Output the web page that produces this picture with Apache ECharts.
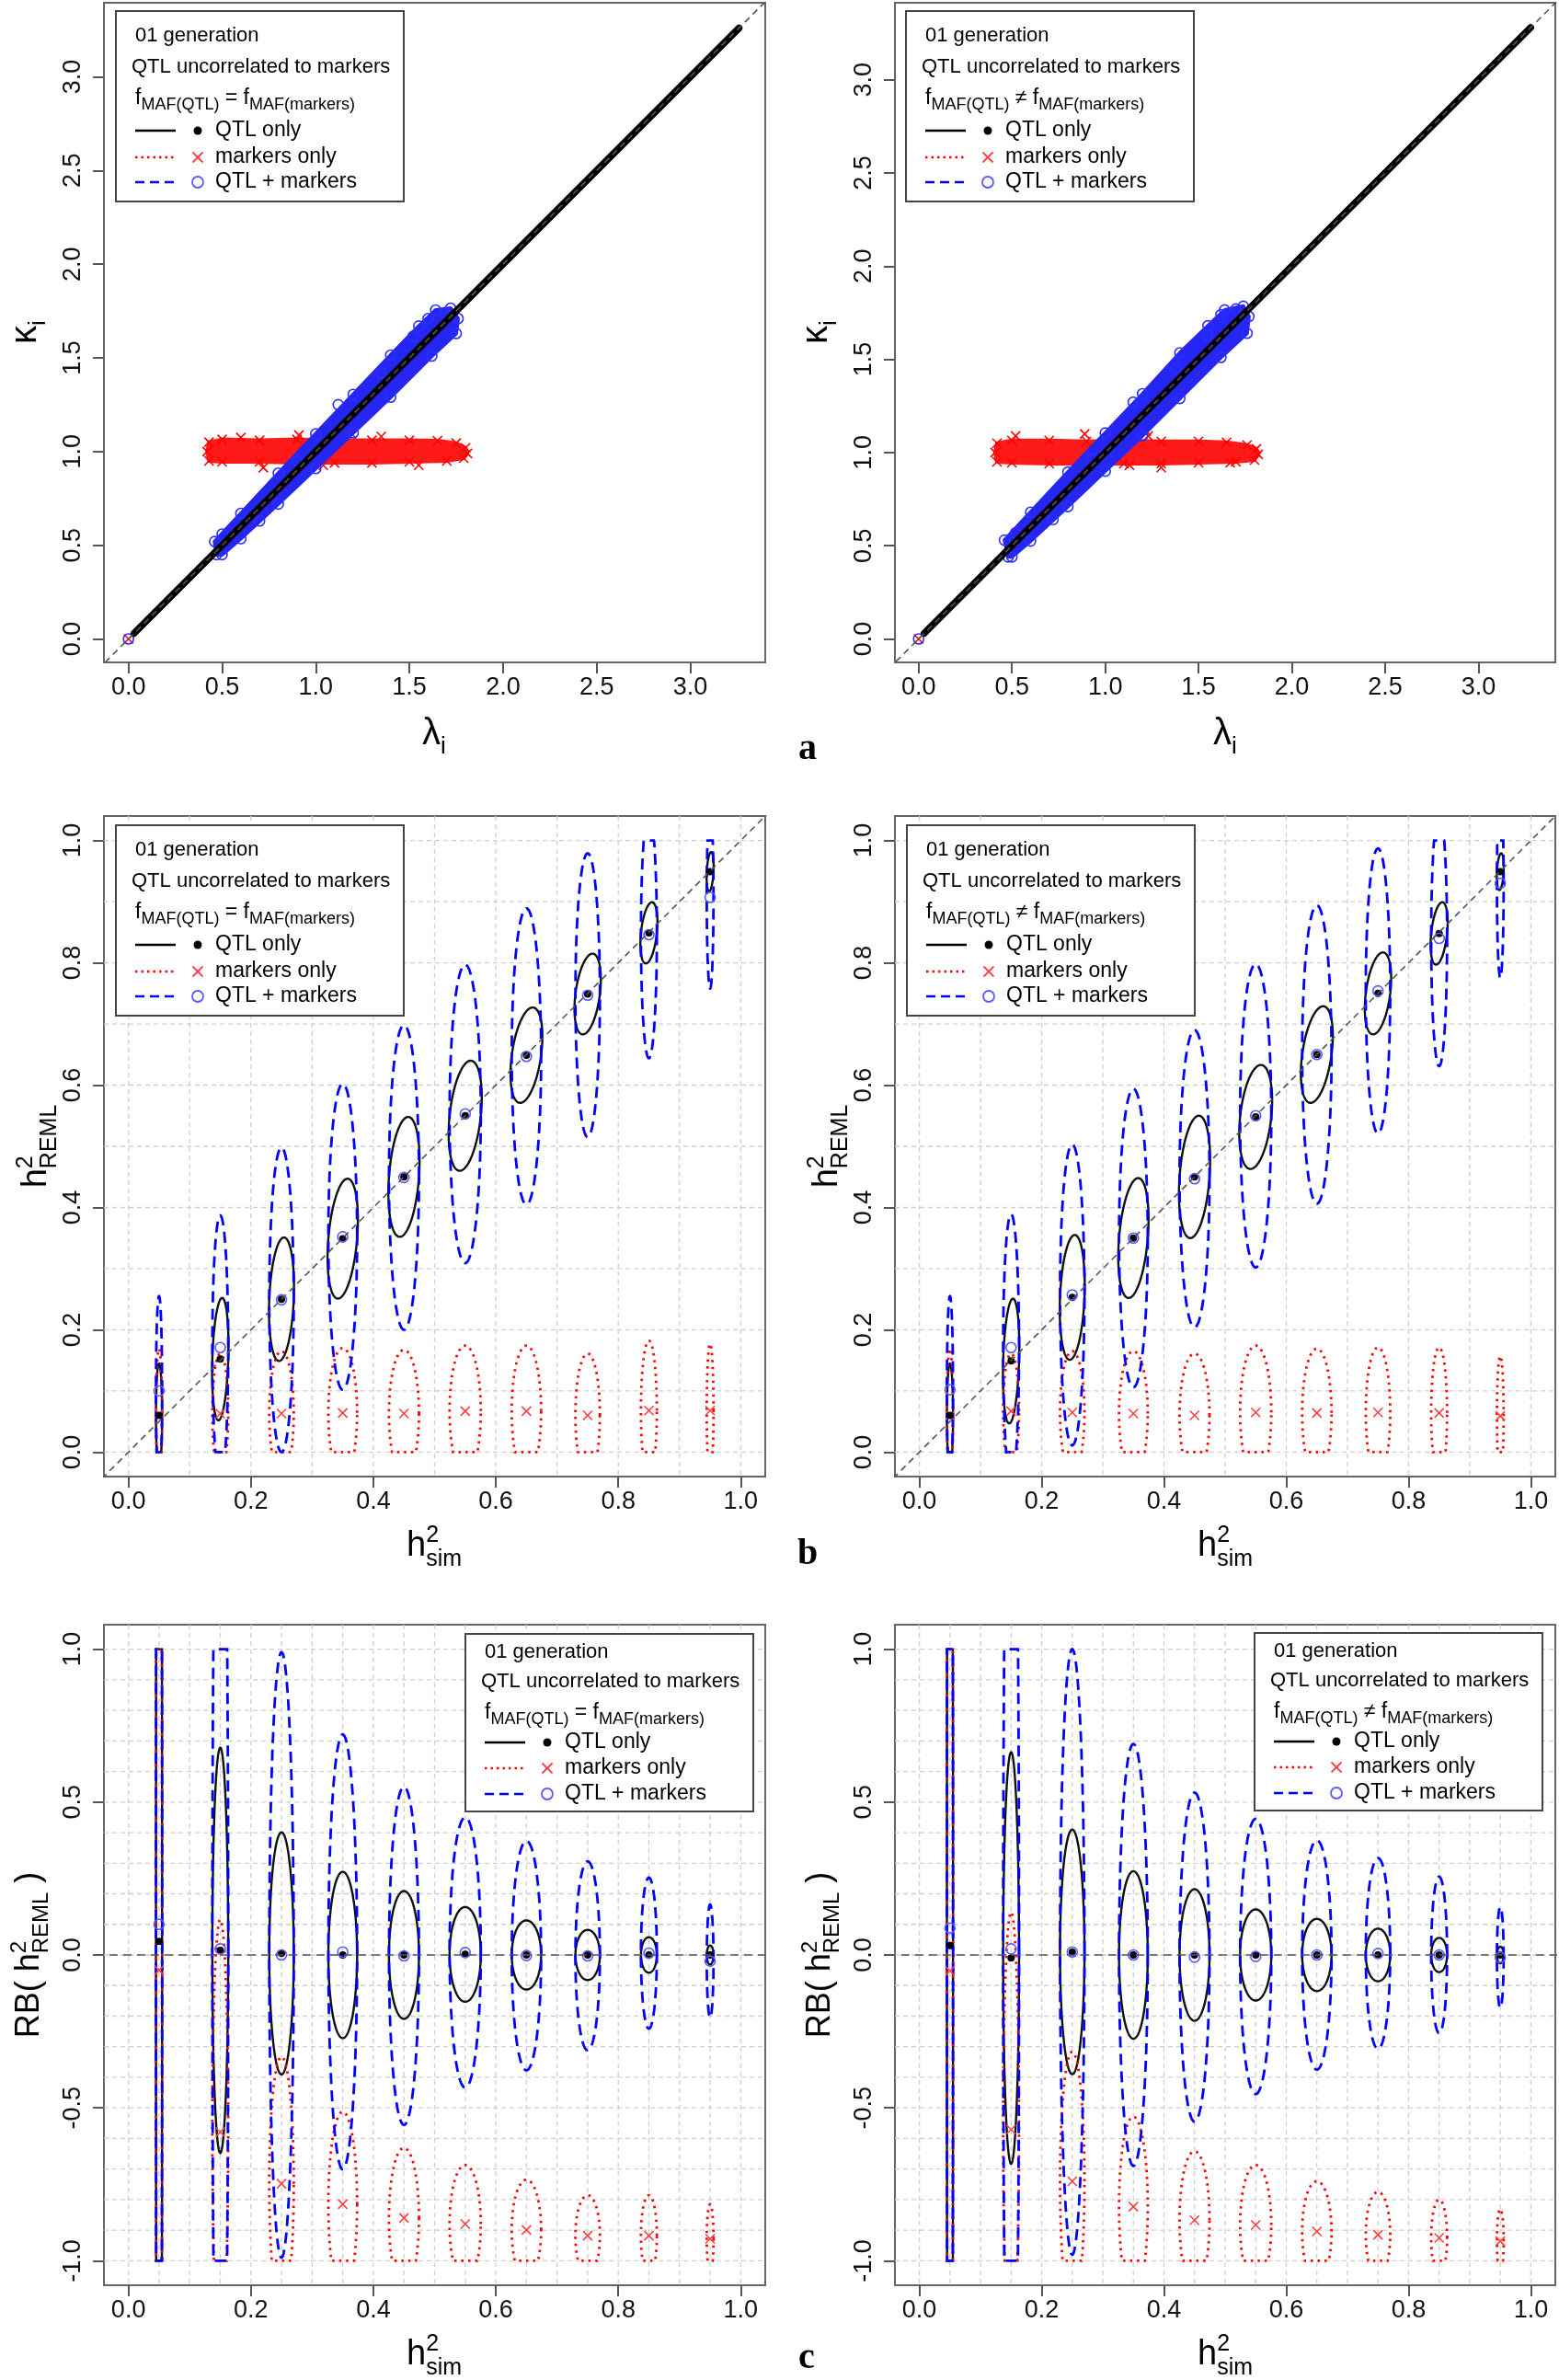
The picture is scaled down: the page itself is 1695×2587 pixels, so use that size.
<!DOCTYPE html>
<html>
<head>
<meta charset="utf-8">
<title>kappa / h2 REML / RB ellipses</title>
<script src="https://cdn.jsdelivr.net/npm/echarts@6.0.0/dist/echarts.min.js"></script>
<style>
  html, body { margin: 0; padding: 0; background: #fff; }
  #chart { width: 1695px; height: 2587px; }
</style>
</head>
<body>
<div id="chart"></div>
<script>
const FONT = '"Liberation Sans", "DejaVu Sans", sans-serif';

// ---------------- values ----------------
// panel a : kappa_i against lambda_i
const aTicks = [0, 0.5, 1, 1.5, 2, 2.5, 3];
// QTL only: first and last point of the dense diagonal
const aL_qtlLam = [0.03, 3.26];
const aL_qtlKap = [0.03, 3.26];
const aR_qtlLam = [0.03, 3.28];
const aR_qtlKap = [0.03, 3.28];
// markers only: outline of the dense band of crosses
const aL_mrkLam = [0.43, 0.42, 0.43, 0.5, 0.7, 0.9, 1.1, 1.3, 1.5, 1.65, 1.75, 1.8, 1.81, 1.79, 1.7, 1.5, 1.3, 1.1, 0.9, 0.7, 0.5];
const aL_mrkKap = [0.95, 1.0, 1.05, 1.065, 1.06, 1.065, 1.06, 1.06, 1.06, 1.058, 1.045, 1.02, 0.99, 0.965, 0.95, 0.945, 0.94, 0.94, 0.94, 0.945, 0.945];
const aR_mrkLam = [0.42, 0.41, 0.42, 0.5, 0.7, 0.9, 1.1, 1.3, 1.5, 1.65, 1.76, 1.81, 1.82, 1.8, 1.7, 1.5, 1.3, 1.1, 0.9, 0.7, 0.5];
const aR_mrkKap = [0.95, 1.0, 1.05, 1.065, 1.065, 1.06, 1.065, 1.06, 1.06, 1.055, 1.04, 1.02, 0.99, 0.96, 0.95, 0.945, 0.94, 0.94, 0.94, 0.94, 0.945];
// markers only: stray points outside the band
const aL_mrkOutLam = [0, 0.91, 1.19, 0.72, 1.04, 1.55, 0.6, 1.35];
const aL_mrkOutKap = [0, 1.088, 1.096, 0.914, 0.927, 0.927, 1.075, 1.08];
const aR_mrkOutLam = [0, 0.52, 0.89, 1.23, 1.3, 1.67, 1.13, 1.22];
const aR_mrkOutKap = [0, 1.089, 1.1, 1.089, 0.919, 0.945, 0.932, 1.115];
// QTL + markers: outline of the band of circles
const aL_bothLam = [0.46, 0.6, 0.8, 1.0, 1.2, 1.4, 1.55, 1.64, 1.72, 1.76, 1.75, 1.62, 1.4, 1.2, 1.0, 0.8, 0.6, 0.5, 0.47];
const aL_bothKap = [0.52, 0.67, 0.885, 1.095, 1.305, 1.515, 1.67, 1.755, 1.765, 1.71, 1.63, 1.51, 1.29, 1.1, 0.91, 0.72, 0.535, 0.45, 0.45];
const aR_bothLam = [0.46, 0.6, 0.8, 1.0, 1.2, 1.4, 1.55, 1.64, 1.74, 1.77, 1.76, 1.62, 1.4, 1.2, 1.0, 0.8, 0.6, 0.5, 0.48];
const aR_bothKap = [0.53, 0.68, 0.895, 1.105, 1.315, 1.535, 1.68, 1.765, 1.785, 1.73, 1.64, 1.51, 1.29, 1.09, 0.9, 0.71, 0.525, 0.44, 0.44];
const aL_bothOutLam = [0, 1.6, 1.69, 1.52, 0.5, 1.35, 0.9, 1.12, 0.7];
const aL_bothOutKap = [0, 1.71, 1.74, 1.615, 0.56, 1.42, 0.95, 1.25, 0.63];
const aR_bothOutLam = [0, 1.62, 1.7, 1.55, 0.52, 1.38, 0.93, 1.15, 0.72];
const aR_bothOutKap = [0, 1.74, 1.77, 1.63, 0.57, 1.45, 0.97, 1.27, 0.64];

// panels b and c : one ellipse per simulated heritability
const hSim = [0.05, 0.15, 0.25, 0.35, 0.45, 0.55, 0.65, 0.75, 0.85, 0.95];
const halfW = [0.005, 0.013, 0.02, 0.0235, 0.0245, 0.0255, 0.024, 0.02, 0.013, 0.0055];
const bTilt = [0, 0.03, 0.04, 0.08, 0.07, 0.1, 0.13, 0.12, 0.1, 0.05];
const unitTicks = [0, 0.2, 0.4, 0.6, 0.8, 1.0];
const rbTicks = [-1, -0.5, 0, 0.5, 1];
const bGridX = [0, 0.1, 0.2, 0.3, 0.4, 0.5, 0.6, 0.7, 0.8, 0.9, 1.0];
const bGridY = [0, 0.1, 0.2, 0.3, 0.4, 0.5, 0.6, 0.7, 0.8, 0.9, 1.0];
const cGridX = [0, 0.05, 0.1, 0.15, 0.2, 0.25, 0.3, 0.35, 0.4, 0.45, 0.5, 0.55, 0.6, 0.65, 0.7, 0.75, 0.8, 0.85, 0.9, 0.95, 1.0];
const cGridY = [-1, -0.9, -0.8, -0.7, -0.6, -0.5, -0.4, -0.3, -0.2, -0.1, 0, 0.1, 0.2, 0.3, 0.4, 0.5, 0.6, 0.7, 0.8, 0.9, 1.0];

// b: h2 REML, mean and half height of each ellipse
const bL_qtlMean = [0.06, 0.152, 0.25, 0.349, 0.45, 0.55, 0.649, 0.749, 0.849, 0.949];
const bL_qtlHalf = [0.085, 0.1, 0.101, 0.098, 0.098, 0.09, 0.078, 0.066, 0.05, 0.032];
const bL_bothMean = [0.1, 0.171, 0.249, 0.352, 0.449, 0.553, 0.647, 0.747, 0.846, 0.907];
const bL_bothHalf = [0.155, 0.216, 0.249, 0.25, 0.249, 0.244, 0.242, 0.232, 0.202, 0.149];
const bL_mrkMean = [0.063, 0.063, 0.063, 0.064, 0.063, 0.067, 0.067, 0.06, 0.068, 0.068];
const bL_mrkHalf = [0.106, 0.098, 0.102, 0.106, 0.104, 0.107, 0.107, 0.101, 0.114, 0.109];

const bR_qtlMean = [0.06, 0.149, 0.253, 0.35, 0.45, 0.548, 0.65, 0.75, 0.848, 0.949];
const bR_qtlHalf = [0.085, 0.102, 0.102, 0.098, 0.1, 0.085, 0.079, 0.067, 0.051, 0.03];
const bR_bothMean = [0.102, 0.171, 0.257, 0.35, 0.447, 0.55, 0.65, 0.754, 0.84, 0.93];
const bR_bothHalf = [0.153, 0.218, 0.246, 0.244, 0.243, 0.248, 0.244, 0.233, 0.209, 0.155];
const bR_mrkMean = [0.06, 0.067, 0.065, 0.063, 0.06, 0.065, 0.064, 0.065, 0.064, 0.059];
const bR_mrkHalf = [0.109, 0.094, 0.1, 0.102, 0.101, 0.109, 0.105, 0.106, 0.107, 0.098];

// c: relative bias of h2 REML
const cL_qtlMean = [0.044, 0.015, 0.005, 0, 0, 0.002, 0, 0, 0, 0];
const cL_qtlHalf = [3, 0.663, 0.396, 0.272, 0.209, 0.155, 0.113, 0.082, 0.058, 0.031];
const cL_bothMean = [0.1, 0.02, 0, 0.01, -0.003, 0.008, -0.002, -0.003, 0.006, -0.02];
const cL_bothHalf = [3, 2, 0.99, 0.711, 0.553, 0.442, 0.375, 0.309, 0.247, 0.185];
const cL_mrkMean = [-0.05, -0.579, -0.748, -0.815, -0.86, -0.88, -0.899, -0.918, -0.918, -0.928];
const cL_mrkHalf = [3, 0.695, 0.415, 0.302, 0.229, 0.193, 0.164, 0.132, 0.132, 0.113];

const cR_qtlMean = [0.031, -0.01, 0.01, 0, 0, 0, 0, 0, 0, 0];
const cR_qtlHalf = [3, 0.673, 0.4, 0.274, 0.215, 0.149, 0.118, 0.086, 0.056, 0.027];
const cR_bothMean = [0.088, 0.02, 0.01, 0, -0.007, -0.005, 0, 0.005, 0, -0.008];
const cR_bothHalf = [3, 2, 0.99, 0.69, 0.538, 0.45, 0.375, 0.312, 0.256, 0.165];
const cR_mrkMean = [-0.052, -0.571, -0.74, -0.823, -0.867, -0.883, -0.904, -0.915, -0.925, -0.936];
const cR_mrkHalf = [3, 0.711, 0.423, 0.294, 0.225, 0.196, 0.164, 0.14, 0.125, 0.105];

// ---------------- layout ----------------
const boxes = [
  { left: 113, top: 3, width: 719, height: 717 },
  { left: 973, top: 3, width: 718, height: 717 },
  { left: 113, top: 887, width: 719, height: 718 },
  { left: 973, top: 887, width: 718, height: 718 },
  { left: 113, top: 1766, width: 719, height: 718 },
  { left: 973, top: 1766, width: 718, height: 718 }
];
const xRange = [[-0.131, 3.40], [-0.127, 3.412], [-0.04, 1.04], [-0.04, 1.04], [-0.04, 1.04], [-0.04, 1.04]];
const yRange = [[-0.125, 3.395], [-0.126, 3.413], [-0.04, 1.04], [-0.04, 1.04], [-1.08, 1.08], [-1.08, 1.08]];
const xTicks = [aTicks, aTicks, unitTicks, unitTicks, unitTicks, unitTicks];
const yTicks = [aTicks, aTicks, unitTicks, unitTicks, rbTicks, rbTicks];

const RED = '#ff0000';
const BLUE = '#0000ff';
const GRID = '#cfcfcf';

function axis (i, dim) {
  const r = dim === 'x' ? xRange[i] : yRange[i];
  const ticks = dim === 'x' ? xTicks[i] : yTicks[i];
  return {
    type: 'value',
    gridIndex: i,
    min: r[0],
    max: r[1],
    axisLine: { show: false, onZero: false },
    axisTick: { show: true, length: 12, customValues: ticks, lineStyle: { color: '#555', width: 2 } },
    axisLabel: {
      customValues: ticks,
      formatter: v => v.toFixed(1),
      fontSize: 27,
      fontFamily: FONT,
      color: '#111',
      margin: dim === 'x' ? 14 : 20,
      rotate: dim === 'y' ? 90 : 0
    },
    splitLine: { show: false }
  };
}

function gridLines (gi, vals, dir) {
  return {
    type: 'custom',
    xAxisIndex: gi,
    yAxisIndex: gi,
    silent: true,
    z: 1,
    encode: { x: 0, y: 1 },
    data: vals.map(v => [v, v]),
    renderItem (params, api) {
      const cs = params.coordSys;
      let shape;
      if (dir === 'v') {
        const px = api.coord([api.value(0), 0])[0];
        shape = { x1: px, y1: cs.y, x2: px, y2: cs.y + cs.height };
      } else {
        const py = api.coord([0, api.value(1)])[1];
        shape = { x1: cs.x, y1: py, x2: cs.x + cs.width, y2: py };
      }
      return { type: 'line', shape, style: { stroke: GRID, lineWidth: 1.3, lineDash: [5, 4] } };
    }
  };
}

function refLine (gi, pts, dash) {
  return {
    type: 'line',
    xAxisIndex: gi,
    yAxisIndex: gi,
    data: pts,
    symbol: 'none',
    silent: true,
    clip: true,
    lineStyle: { color: '#555', width: 1.6, type: dash }
  };
}

function ellipses (gi, mean, half, tilt, color, width, dash, lo, hi) {
  return {
    type: 'custom',
    xAxisIndex: gi,
    yAxisIndex: gi,
    silent: true,
    encode: { x: 0, y: 1 },
    data: hSim.map((x, i) => [x, mean[i], half[i], halfW[i], tilt ? tilt[i] : 0]),
    renderItem (params, api) {
      const cx = api.value(0);
      const cy = api.value(1);
      const ry = api.value(2);
      const rx = api.value(3);
      const s = api.value(4);
      const pts = [];
      for (let k = 0; k <= 240; k++) {
        const t = (k / 240) * Math.PI * 2;
        const dy = ry * Math.sin(t);
        const y = Math.min(hi, Math.max(lo, cy + dy));
        pts.push(api.coord([cx + rx * Math.cos(t) + s * dy, y]));
      }
      return {
        type: 'polyline',
        shape: { points: pts },
        style: { fill: null, stroke: color, lineWidth: width, lineDash: dash }
      };
    }
  };
}

function dots (gi, xs, ys, size) {
  return {
    type: 'scatter',
    xAxisIndex: gi,
    yAxisIndex: gi,
    silent: true,
    symbol: 'circle',
    symbolSize: size,
    data: xs.map((x, i) => [x, ys[i]]),
    itemStyle: { color: '#000', opacity: 1 }
  };
}

function rings (gi, xs, ys, color, size, lw) {
  return {
    type: 'scatter',
    xAxisIndex: gi,
    yAxisIndex: gi,
    silent: true,
    symbol: 'circle',
    symbolSize: size,
    data: xs.map((x, i) => [x, ys[i]]),
    itemStyle: { color: 'rgba(0,0,0,0)', borderColor: color, borderWidth: lw, opacity: 1 }
  };
}

function crosses (gi, xs, ys, color, size, lw) {
  return {
    type: 'custom',
    xAxisIndex: gi,
    yAxisIndex: gi,
    silent: true,
    encode: { x: 0, y: 1 },
    data: xs.map((x, i) => [x, ys[i]]),
    renderItem (params, api) {
      const c = api.coord([api.value(0), api.value(1)]);
      const h = size / 2;
      return {
        type: 'group',
        children: [
          { type: 'line', shape: { x1: c[0] - h, y1: c[1] - h, x2: c[0] + h, y2: c[1] + h }, style: { stroke: color, lineWidth: lw } },
          { type: 'line', shape: { x1: c[0] - h, y1: c[1] + h, x2: c[0] + h, y2: c[1] - h }, style: { stroke: color, lineWidth: lw } }
        ]
      };
    }
  };
}

// filled outline of a dense cloud of points
function cloud (gi, xs, ys, fill) {
  return {
    type: 'custom',
    xAxisIndex: gi,
    yAxisIndex: gi,
    silent: true,
    encode: { x: 0, y: 1 },
    data: xs.map((x, i) => [x, ys[i]]),
    renderItem (params, api) {
      if (params.dataIndex !== 0) return null;
      const pts = xs.map((x, i) => api.coord([x, ys[i]]));
      return { type: 'polygon', shape: { points: pts }, style: { fill, stroke: fill, lineWidth: 4, lineJoin: 'round' } };
    }
  };
}

function panelA (gi, qLam, qKap, mLam, mKap, mOutLam, mOutKap, bLam, bKap, bOutLam, bOutKap) {
  return [
    {
      type: 'line',
      xAxisIndex: gi,
      yAxisIndex: gi,
      data: qLam.map((x, i) => [x, qKap[i]]),
      symbol: 'none',
      silent: true,
      lineStyle: { color: '#000', width: 7.5, cap: 'round' }
    },
    cloud(gi, mLam, mKap, '#ff1a1a'),
    crosses(gi, mLam.concat(mOutLam), mKap.concat(mOutKap), RED, 10, 1.6),
    cloud(gi, bLam, bKap, '#2626f2'),
    rings(gi, bLam.concat(bOutLam), bKap.concat(bOutKap), '#2e2eff', 11, 1.6),
    refLine(gi, [[-1, -1], [4, 4]], [7, 5])
  ];
}

// ellipses drawn black, red, blue so the blue dashes lie on top
function panelB (gi, qm, qh, bm, bh, mm, mh) {
  return [
    gridLines(gi, bGridX, 'v'),
    gridLines(gi, bGridY, 'h'),
    refLine(gi, [[-1, -1], [2, 2]], [7, 5]),
    ellipses(gi, qm, qh, bTilt, '#111', 2.4, null, 0, 1),
    ellipses(gi, mm, mh, null, RED, 2.8, [2.5, 5], 0, 1),
    ellipses(gi, bm, bh, null, BLUE, 2.8, [12, 7], 0, 1),
    dots(gi, hSim, qm, 8),
    crosses(gi, hSim, mm, '#ff4040', 10, 1.6),
    rings(gi, hSim, bm, '#5a5aff', 11, 1.6)
  ];
}

function panelC (gi, qm, qh, bm, bh, mm, mh) {
  return [
    gridLines(gi, cGridX, 'v'),
    gridLines(gi, cGridY, 'h'),
    refLine(gi, [[-1, 0], [2, 0]], [9, 6]),
    ellipses(gi, qm, qh, null, '#111', 2.4, null, -1, 1),
    ellipses(gi, mm, mh, null, RED, 2.8, [2.5, 5], -1, 1),
    ellipses(gi, bm, bh, null, BLUE, 2.8, [12, 7], -1, 1),
    dots(gi, hSim, qm, 8),
    crosses(gi, hSim, mm, '#ff4040', 10, 1.6),
    rings(gi, hSim, bm, '#5a5aff', 11, 1.6)
  ];
}

// ---------------- text helpers (legend, axis titles) ----------------
const meas = document.createElement('canvas').getContext('2d');
function textWidth (t, size) {
  meas.font = size + 'px ' + FONT;
  return meas.measureText(t).width;
}

function textStyle (t, size, align) {
  return { text: t, fontSize: size, fontFamily: FONT, fill: '#000', textAlign: align || 'left', textVerticalAlign: 'middle' };
}

// parts: [text, size, rise, stay] laid on a common baseline at local y = 0
function mathRow (parts, center, z) {
  let x = 0;
  const kids = [];
  parts.forEach(p => {
    const [t, size, rise, stay] = p;
    kids.push({ type: 'text', z, x: x, y: -rise - 0.35 * size, style: textStyle(t, size) });
    if (!stay) x += textWidth(t, size);
  });
  if (center) kids.forEach(k => { k.x -= x / 2; });
  return kids;
}

function title (parts, x, y, rotated) {
  return { type: 'group', x, y, rotation: rotated ? Math.PI / 2 : 0, children: mathRow(parts, true, 50) };
}

function txt (t, x, y, size) {
  return { type: 'text', z: 101, x, y, style: textStyle(t, size) };
}

function legend (x, y, h, rows, neq) {
  const w = 313;
  const Z = 101;
  const kids = [
    { type: 'rect', z: 100, shape: { x: 0, y: 0, width: w, height: h }, style: { fill: '#fff', stroke: '#444', lineWidth: 2 } },
    txt('01 generation', 21, rows[0], 22),
    txt('QTL uncorrelated to markers', 17, rows[1], 22),
    {
      type: 'group',
      x: 21,
      y: rows[2] + 0.35 * 22,
      children: mathRow([['f', 23, 0], ['MAF(QTL)', 18, -6], [neq ? ' \u2260 ' : ' = ', 23, 0], ['f', 23, 0], ['MAF(markers)', 18, -6]], false, Z)
    },
    { type: 'line', z: Z, shape: { x1: 21, y1: rows[3], x2: 65, y2: rows[3] }, style: { stroke: '#000', lineWidth: 2.5 } },
    { type: 'circle', z: Z, shape: { cx: 89, cy: rows[3], r: 4.5 }, style: { fill: '#000' } },
    txt('QTL only', 108, rows[3], 23),
    { type: 'line', z: Z, shape: { x1: 21, y1: rows[4], x2: 65, y2: rows[4] }, style: { stroke: RED, lineWidth: 2.5, lineDash: [2.5, 4] } },
    { type: 'line', z: Z, shape: { x1: 83.5, y1: rows[4] - 5.5, x2: 94.5, y2: rows[4] + 5.5 }, style: { stroke: '#ff4040', lineWidth: 1.8 } },
    { type: 'line', z: Z, shape: { x1: 83.5, y1: rows[4] + 5.5, x2: 94.5, y2: rows[4] - 5.5 }, style: { stroke: '#ff4040', lineWidth: 1.8 } },
    txt('markers only', 108, rows[4], 23),
    { type: 'line', z: Z, shape: { x1: 21, y1: rows[5], x2: 65, y2: rows[5] }, style: { stroke: BLUE, lineWidth: 2.5, lineDash: [10, 6] } },
    { type: 'circle', z: Z, shape: { cx: 89, cy: rows[5], r: 6 }, style: { fill: null, stroke: '#5a5aff', lineWidth: 1.8 } },
    txt('QTL + markers', 108, rows[5], 23)
  ];
  return { type: 'group', x, y, children: kids };
}

const rowsAB = [27, 61, 95, 130, 159, 186];
const rowsC = [20, 52, 86, 118, 146, 174];

const lam = [['\u03bb', 40, 0], ['i', 26, -9]];
const kap = [['\u03ba', 40, 0], ['i', 26, -9]];
const hsim = [['h', 38, 0], ['2', 25, 16, true], ['sim', 25, -10]];
const hreml = [['h', 38, 0], ['2', 25, 16, true], ['REML', 25, -10]];
const rb = [['RB( ', 36, 0], ['h', 36, 0], ['2', 24, 15, true], ['REML', 24, -9], [' )', 36, 0]];

const letter = (t, x, y) => ({
  type: 'text', x, y,
  style: { text: t, fontSize: 40, fontWeight: 'bold', fontFamily: '"Liberation Serif", serif', fill: '#000', textAlign: 'center', textVerticalAlign: 'middle' }
});

const graphics = [
  legend(126, 12, 207, rowsAB, false),
  legend(985, 12, 207, rowsAB, true),
  legend(126, 897, 207, rowsAB, false),
  legend(986, 897, 207, rowsAB, true),
  legend(506, 1776, 193, rowsC, false),
  legend(1364, 1775, 193, rowsC, true),
  title(lam, 472, 812, false),
  title(lam, 1332, 812, false),
  title(kap, 42, 361, true),
  title(kap, 902, 361, true),
  title(hsim, 472, 1694, false),
  title(hsim, 1332, 1694, false),
  title(hreml, 53, 1246, true),
  title(hreml, 913, 1246, true),
  title(hsim, 472, 2573, false),
  title(hsim, 1332, 2573, false),
  title(rb, 45, 2125, true),
  title(rb, 905, 2125, true),
  letter('a', 878, 815),
  letter('b', 878, 1690),
  letter('c', 877, 2564)
];

const chart = echarts.init(document.getElementById('chart'));
chart.setOption({
  animation: false,
  backgroundColor: '#fff',
  textStyle: { fontFamily: FONT },
  grid: boxes.map(b => Object.assign({
    show: true,
    borderColor: '#666',
    borderWidth: 2,
    backgroundColor: 'transparent',
    containLabel: false,
    outerBoundsMode: 'none'
  }, b)),
  xAxis: boxes.map((b, i) => axis(i, 'x')),
  yAxis: boxes.map((b, i) => axis(i, 'y')),
  series: [].concat(
    panelA(0, aL_qtlLam, aL_qtlKap, aL_mrkLam, aL_mrkKap, aL_mrkOutLam, aL_mrkOutKap, aL_bothLam, aL_bothKap, aL_bothOutLam, aL_bothOutKap),
    panelA(1, aR_qtlLam, aR_qtlKap, aR_mrkLam, aR_mrkKap, aR_mrkOutLam, aR_mrkOutKap, aR_bothLam, aR_bothKap, aR_bothOutLam, aR_bothOutKap),
    panelB(2, bL_qtlMean, bL_qtlHalf, bL_bothMean, bL_bothHalf, bL_mrkMean, bL_mrkHalf),
    panelB(3, bR_qtlMean, bR_qtlHalf, bR_bothMean, bR_bothHalf, bR_mrkMean, bR_mrkHalf),
    panelC(4, cL_qtlMean, cL_qtlHalf, cL_bothMean, cL_bothHalf, cL_mrkMean, cL_mrkHalf),
    panelC(5, cR_qtlMean, cR_qtlHalf, cR_bothMean, cR_bothHalf, cR_mrkMean, cR_mrkHalf)
  ),
  graphic: graphics
});
</script>
</body>
</html>
